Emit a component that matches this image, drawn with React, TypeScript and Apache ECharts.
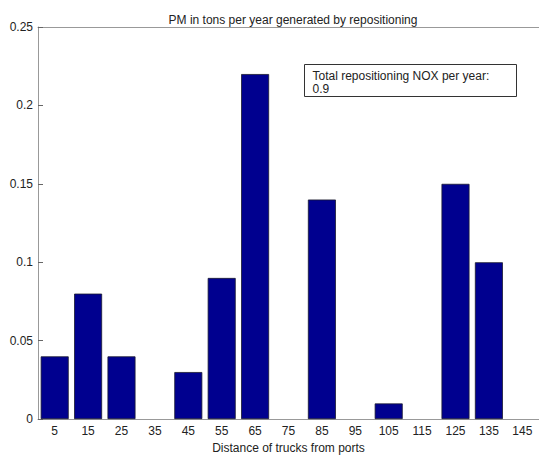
import React, { useEffect, useRef } from "react";
import * as echarts from "echarts";

// Distance bins (trucks from ports) and PM tons per year per bin
const distances = ["5", "15", "25", "35", "45", "55", "65", "75", "85", "95", "105", "115", "125", "135", "145"];
const pmTons = [0.04, 0.08, 0.04, 0, 0.03, 0.09, 0.22, 0, 0.14, 0, 0.01, 0, 0.15, 0.1, 0];
const noxLabel = "Total repositioning NOX per year:";
const noxTotal = "0.9";

const FONT = "Liberation Sans, Arial, sans-serif";

export default function App() {
  const ref = useRef<HTMLDivElement>(null);

  useEffect(() => {
    if (!ref.current) return;
    const chart = echarts.init(ref.current, null, { renderer: "svg" });
    chart.setOption({
      animation: false,
      backgroundColor: "#ffffff",
      title: {
        text: "PM in tons per year generated by repositioning",
        left: 288,
        textAlign: "center",
        top: 9,
        textStyle: { fontFamily: FONT, fontSize: 12, fontWeight: "normal", color: "#222" },
      },
      grid: { left: 38, right: -3, top: 27, bottom: 34 },
      xAxis: [
        {
          type: "category",
          data: distances,
          position: "bottom",
          name: "Distance of trucks from ports",
          nameLocation: "middle",
          nameGap: 21,
          nameTextStyle: { fontFamily: FONT, fontSize: 12, color: "#222" },
          axisLine: { lineStyle: { color: "#999", width: 1 } },
          axisTick: { alignWithLabel: true, inside: true, length: 5, lineStyle: { color: "#666" } },
          axisLabel: { fontFamily: FONT, fontSize: 12, color: "#222", margin: 6 },
        },
        {
          type: "category",
          data: distances,
          position: "top",
          axisLine: { lineStyle: { color: "#999", width: 1 } },
          axisTick: { alignWithLabel: true, inside: true, length: 5, lineStyle: { color: "#666" } },
          axisLabel: { show: false },
        },
      ],
      yAxis: {
        type: "value",
        min: 0,
        max: 0.25,
        interval: 0.05,
        axisLine: { show: true, lineStyle: { color: "#999", width: 1 } },
        axisTick: { show: true, inside: true, length: 5, lineStyle: { color: "#666" } },
        axisLabel: { fontFamily: FONT, fontSize: 12, color: "#222", margin: 5 },
        splitLine: { show: false },
      },
      series: [
        {
          type: "bar",
          // empty bins draw nothing
          data: pmTons.map((v) => (v === 0 ? null : v)),
          barWidth: 28,
          itemStyle: { color: "#00008f", borderColor: "#1a1a2e", borderWidth: 0.8 },
        },
      ],
      graphic: [
        {
          type: "group",
          left: 304,
          top: 64,
          children: [
            {
              type: "rect",
              shape: { x: 0, y: 0, width: 212, height: 32 },
              style: { fill: "#fff", stroke: "#333", lineWidth: 1 },
            },
            {
              type: "text",
              x: 8,
              y: 5,
              style: { text: noxLabel, fontFamily: FONT, fontSize: 12, fill: "#222" },
            },
            {
              type: "text",
              x: 8,
              y: 18,
              style: { text: noxTotal, fontFamily: FONT, fontSize: 12, fill: "#222" },
            },
          ],
        },
      ],
    });
    return () => chart.dispose();
  }, []);

  return <div ref={ref} style={{ width: 539, height: 459, position: "absolute", left: 0, top: 0 }} />;
}
